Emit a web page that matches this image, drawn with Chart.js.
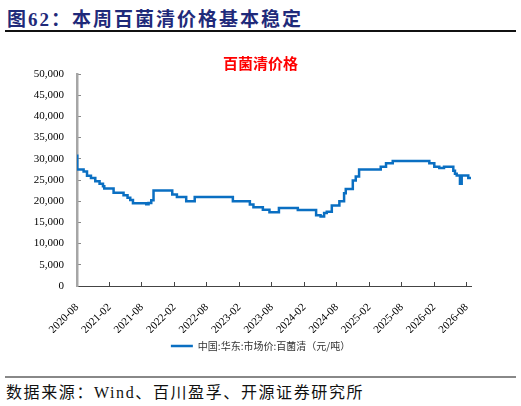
<!DOCTYPE html>
<html>
<head>
<meta charset="utf-8">
<script src="https://cdn.jsdelivr.net/npm/chart.js@4"></script>
<style>
  body { margin: 0; width: 521px; height: 406px; background: #fff; position: relative; overflow: hidden; }
  #title { position: absolute; left: 7px; top: 4px; font: bold 19px "Liberation Serif", "Noto Sans CJK SC"; letter-spacing: 2px; color: #1F2A7A; white-space: nowrap; }
  #topline { position: absolute; left: 5px; top: 30px; width: 511px; height: 2px; background: #111; }
  #wrap { position: absolute; left: 0; top: 40px; width: 521px; height: 321px; }
  #botline { position: absolute; left: 5px; top: 376px; width: 511px; height: 2px; background: #888; }
  #source { position: absolute; left: 6px; top: 379px; font: 16px "Liberation Serif", "Noto Sans CJK SC"; letter-spacing: 1.6px; color: #111; white-space: nowrap; }
</style>
</head>
<body>
<div id="title">图62：本周百菌清价格基本稳定</div>
<div id="topline"></div>
<div id="wrap"><canvas id="priceChart"></canvas></div>
<div id="botline"></div>
<div id="source">数据来源：Wind、百川盈孚、开源证券研究所</div>
<script>
// months counted from 2020-08, each point starts a new price level
const months = [0, 0.05, 1.22, 1.85, 2.58, 3.38, 4.17, 4.8, 5.04, 6.76, 8.6, 9.34, 9.84, 10.34,
  12.79, 13.22, 13.72, 14.14, 17.6, 18.46, 20.18, 21.75, 28.8, 31.94, 32.6, 34.34, 35.56,
  37.31, 40.8, 44.18, 45.01, 45.66, 46.15, 47.08, 48.48, 49.35, 49.66, 50.96, 51.51, 52.12,
  56.12, 57.1, 58.34, 65.1, 66.02, 66.94, 67.81, 69.53, 69.84, 70.16, 70.76, 71.08, 72.3, 72.8];
const prices = [30700, 27500, 27000, 26000, 25500, 24700, 24100, 23500, 23000, 22000, 21400, 20800, 20300, 19500,
  19300, 19600, 20200, 22500, 21600, 21000, 20000, 21000, 20000, 19250, 18600, 18000, 17400,
  18400, 17900, 16700, 16400, 17200, 17500, 19000, 20000, 21900, 22900, 24900, 25800, 27500,
  28150, 28950, 29500, 28950, 28150, 27850, 28150, 27200, 26450, 26050, 24100, 26050, 25500, 25500];
const tickLabels = ["2020-08", "2021-02", "2021-08", "2022-02", "2022-08", "2023-02", "2023-08",
  "2024-02", "2024-08", "2025-02", "2025-08", "2026-02", "2026-08"];

const ctx = document.getElementById("priceChart");
const serif = "'Liberation Serif', 'Times New Roman', serif";

new Chart(ctx, {
  type: "line",
  data: {
    datasets: [
      {
        label: "中国:华东:市场价:百菌清（元/吨）",
        data: months.map((m, i) => ({ x: m, y: prices[i] })),
        borderColor: "#0A6FC2",
        backgroundColor: "#0A6FC2",
        borderWidth: 2.5,
        pointRadius: 0,
        stepped: "before",
        fill: false,
      },
    ],
  },
  options: {
    responsive: true,
    maintainAspectRatio: false,
    animation: false,
    layout: { padding: 0 },
    plugins: {
      title: {
        display: true,
        text: "百菌清价格",
        color: "#FF0000",
        font: { family: "'Noto Sans CJK SC'", size: 15, weight: "bold" },
        padding: { top: 14, bottom: 2 },
      },
      legend: {
        position: "bottom",
        labels: {
          usePointStyle: true,
          pointStyle: "line",
          pointStyleWidth: 22,
          color: "#333",
          font: { family: "'Noto Sans CJK SC'", size: 10 },
          padding: 8,
        },
      },
      tooltip: { enabled: false },
    },
    scales: {
      x: {
        type: "linear",
        min: 0,
        max: 72.8,
        afterFit: (scale) => { scale.height = 47; },
        border: { display: true, color: "#444", width: 1 },
        grid: { display: true, drawOnChartArea: false, drawTicks: true, tickLength: -4, color: "#444" },
        ticks: {
          stepSize: 6,
          includeBounds: false,
          maxRotation: 45,
          minRotation: 45,
          padding: 19,
          color: "#000",
          font: { family: serif, size: 11 },
          callback: (v) => tickLabels[Math.round(v / 6)] || "",
        },
      },
      y: {
        min: 0,
        max: 50000,
        afterFit: (scale) => { scale.width = 77; },
        border: { display: true, color: "#A6A6A6", width: 2.5 },
        grid: { display: true, drawOnChartArea: false, drawTicks: true, tickLength: -4, color: "#888" },
        ticks: {
          stepSize: 5000,
          padding: 17,
          color: "#000",
          font: { family: serif, size: 11 },
          callback: (v) => v.toLocaleString("en-US"),
        },
      },
      // empty right axis only keeps the right margin, so title and legend stay centred on the page
      yRight: {
        position: "right",
        display: true,
        afterFit: (scale) => { scale.width = 50; },
        border: { display: false },
        grid: { display: false },
        ticks: { display: false },
      },
    },
  },
});
</script>
</body>
</html>
